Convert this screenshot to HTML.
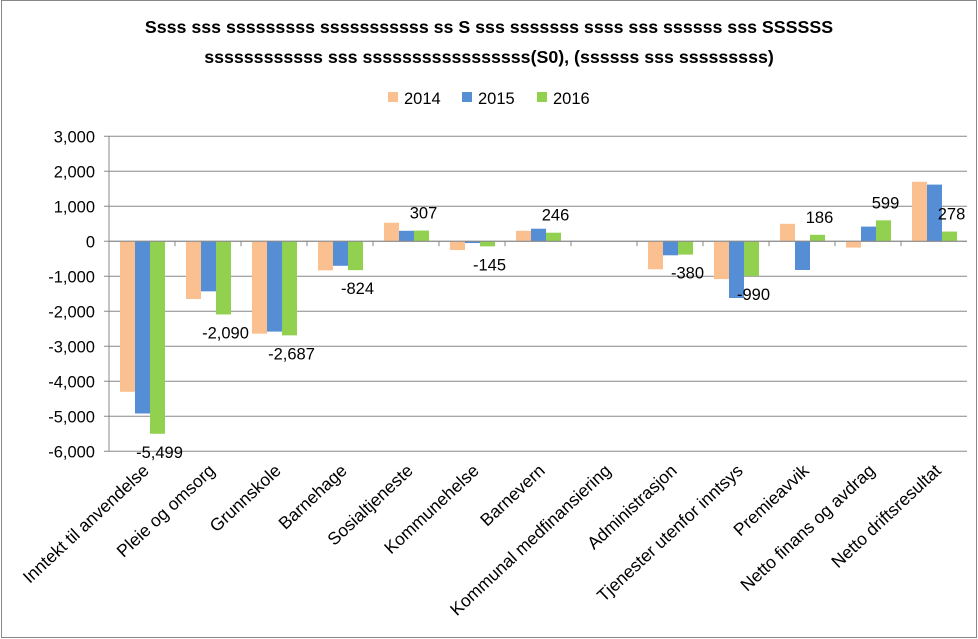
<!DOCTYPE html>
<html><head><meta charset="utf-8"><style>
body{margin:0;background:#fff;}
svg{display:block;font-family:"Liberation Sans",sans-serif;}
</style></head><body>
<svg id="chart" width="978" height="639" viewBox="0 0 978 639">
<rect x="1.5" y="0.5" width="975" height="637" fill="#fff" stroke="#888"/>
<text x="489" y="33" text-anchor="middle" font-size="17.8" font-weight="bold">Ssss sss sssssssss sssssssssss ss S sss sssssss ssss sss ssssss sss SSSSSS</text>
<text x="489" y="63" text-anchor="middle" font-size="17.8" font-weight="bold">ssssssssssss sss sssssssssssssssss(S0), (ssssss sss sssssssss)</text>
<g id="legend"></g>
<g id="grid"></g><g id="bars"></g><g id="axes"></g><g id="labels"></g>
</svg>
<script>
const categories=["Inntekt til anvendelse","Pleie og omsorg","Grunnskole","Barnehage","Sosialtjeneste","Kommunehelse","Barnevern","Kommunal medfinansiering","Administrasjon","Tjenester utenfor inntsys","Premieavvik","Netto finans og avdrag","Netto driftsresultat"];
const s2014=[-4300,-1650,-2640,-830,530,-250,300,0,-800,-1080,500,-180,1700];
const s2015=[-4920,-1430,-2580,-700,300,-50,360,0,-400,-1620,-820,420,1620];
const s2016=[-5499,-2090,-2687,-824,307,-145,246,0,-380,-990,186,599,278];
const labels2016=["-5,499","-2,090","-2,687","-824","307","-145","246","","-380","-990","186","599","278"];
const yTicks=[3000,2000,1000,0,-1000,-2000,-3000,-4000,-5000,-6000];
const seriesNames=["2014","2015","2016"];
const colors=["#fac090","#558ed5","#92d050"];
const NS="http://www.w3.org/2000/svg";
const L=109,R=967,Y0=241.3,PX=0.035,CW=(R-L)/categories.length;
const y=v=>Y0-v*PX;
function mk(tag,attrs,parent,txt){const e=document.createElementNS(NS,tag);for(const k in attrs)e.setAttribute(k,attrs[k]);if(txt!==undefined)e.textContent=txt;document.getElementById(parent).appendChild(e);return e;}
yTicks.forEach(t=>{
 const g=mk('line',{x1:L-5,x2:R,y1:y(t),y2:y(t),stroke:'#888','stroke-width':1},'grid');
 
 
 const tx=mk('text',{x:L-14,y:y(t)+6,'text-anchor':'end','font-size':16.5},'axes',t.toLocaleString('en-US'));
 
 
});
const ax=mk('line',{x1:L,x2:L,y1:y(3000),y2:y(-6000),stroke:'#888'},'axes');


const xa=mk('line',{x1:L,x2:R,y1:Y0,y2:Y0,stroke:'#888'},'axes');


const series=[s2014,s2015,s2016];
categories.forEach((c,i)=>{
 const x0=L+i*CW;
 const tk=mk('line',{x1:x0,x2:x0,y1:Y0,y2:Y0+5,stroke:'#888'},'axes');
 
 
 series.forEach((s,j)=>{
  const v=s[i];const bx=x0+11+j*15;
  const r=mk('rect',{x:bx,y:Math.min(y(v),Y0),width:15,height:Math.abs(y(v)-Y0),fill:colors[j]},'bars');
  
  
 });
 if(labels2016[i]){
  const v=s2016[i];const cx=x0+11+2*15+7.5+2;
  const ly=v>=0?y(v)-12:y(v)+24;
  const t=mk('text',{x:cx,y:ly,'text-anchor':'middle','font-size':16.5},'labels',labels2016[i]);
  
  
 }
 const cx=x0+CW/2+8;
 const xl=mk('text',{x:cx,y:472,'text-anchor':'end','font-size':17.5,transform:`rotate(-43 ${cx} 472)`},'axes',c);
 
 
});
const lx=[388,462,537];
seriesNames.forEach((n,j)=>{
 const r=mk('rect',{x:lx[j],y:92,width:10,height:10,fill:colors[j]},'legend');
 
 
 const t=mk('text',{x:lx[j]+16,y:104,'font-size':16.5},'legend',n);
 
 
});
</script>
</body></html>
